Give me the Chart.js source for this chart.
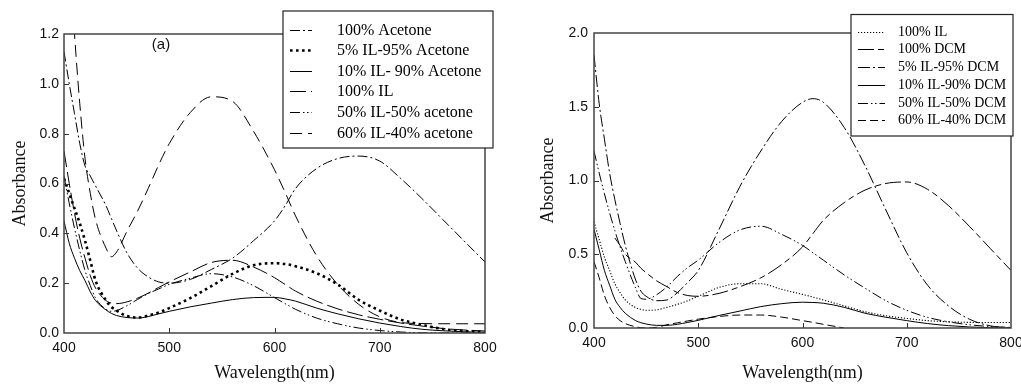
<!DOCTYPE html>
<html>
<head>
<meta charset="utf-8">
<script src="https://cdn.jsdelivr.net/npm/chart.js@4/dist/chart.umd.min.js"></script>
<style>
  body { margin: 0; background: #fff; width: 1021px; height: 387px; position: relative; overflow: hidden; }
  #left { position: absolute; left: 0; top: 0; }
  #right { position: absolute; left: 510px; top: 0; }
</style>
</head>
<body>
<canvas id="left" width="505" height="387"></canvas>
<canvas id="right" width="511" height="387"></canvas>
<script>

// =======================
// DATA
// =======================

const wl = [400, 405, 410, 415, 420, 425, 430, 440, 445, 450, 460, 470, 480, 490, 500,
            520, 540, 560, 580, 600, 610, 620, 640, 660, 680, 700, 720, 740, 760, 780, 800];

const xTicks = [400, 500, 600, 700, 800];
const leftYTicks = [0, 0.2, 0.4, 0.6, 0.8, 1.0, 1.2];
const rightYTicks = [0, 0.5, 1.0, 1.5, 2.0];

// left panel: acetone
const leftLabels = ["100% Acetone", "5% IL-95% Acetone", "10% IL- 90% Acetone",
                    "100% IL", "50% IL-50% acetone", "60% IL-40% acetone"];

const acetone100 = [1.13, 1.00, 0.88, 0.76, 0.67, 0.63, 0.59, 0.51, 0.46, 0.41, 0.32, 0.26, 0.225, 0.205, 0.20,
                    0.215, 0.255, 0.30, 0.37, 0.45, 0.51, 0.58, 0.66, 0.70, 0.71, 0.69, 0.62, 0.54, 0.455, 0.37, 0.285];
const il5Acetone = [0.62, 0.56, 0.50, 0.44, 0.37, 0.29, 0.21, 0.13, 0.105, 0.09, 0.068, 0.062, 0.07, 0.082, 0.10,
                    0.14, 0.188, 0.237, 0.272, 0.28, 0.277, 0.268, 0.24, 0.195, 0.133, 0.09, 0.054, 0.033, 0.016, 0.008, 0.004];
const il10Acetone = [0.45, 0.36, 0.30, 0.25, 0.21, 0.165, 0.13, 0.092, 0.079, 0.07, 0.062, 0.06, 0.066, 0.077, 0.087,
                     0.105, 0.12, 0.134, 0.142, 0.143, 0.137, 0.128, 0.10, 0.077, 0.057, 0.04, 0.026, 0.015, 0.009, 0.005, 0.003];
const il100A = [0.73, 0.60, 0.48, 0.38, 0.30, 0.23, 0.18, 0.13, 0.12, 0.118, 0.125, 0.14, 0.16, 0.183, 0.205,
                0.245, 0.283, 0.292, 0.265, 0.222, 0.195, 0.168, 0.128, 0.097, 0.073, 0.055, 0.04, 0.028, 0.018, 0.012, 0.008];
const il50Acetone = [0.63, 0.52, 0.42, 0.33, 0.25, 0.19, 0.14, 0.095, 0.087, 0.09, 0.11, 0.135, 0.158, 0.177, 0.195,
                     0.22, 0.238, 0.225, 0.19, 0.142, 0.118, 0.095, 0.06, 0.037, 0.02, 0.01, 0.004, 0.001, 0, 0, 0];
const il60Acetone = [1.95, 1.55, 1.20, 0.92, 0.70, 0.56, 0.455, 0.34, 0.306, 0.325, 0.41, 0.49, 0.58, 0.675, 0.76,
                     0.885, 0.948, 0.93, 0.81, 0.655, 0.565, 0.47, 0.31, 0.195, 0.115, 0.065, 0.042, 0.038, 0.037, 0.037, 0.037];

// right panel: DCM
const rightLabels = ["100% IL", "100% DCM", "5% IL-95% DCM",
                     "10% IL-90% DCM", "50% IL-50% DCM", "60% IL-40% DCM"];

const il100D = [0.72, 0.60, 0.48, 0.39, 0.30, 0.24, 0.19, 0.138, 0.127, 0.12, 0.123, 0.14, 0.16, 0.185, 0.215,
                0.275, 0.30, 0.30, 0.262, 0.228, 0.21, 0.19, 0.15, 0.11, 0.083, 0.065, 0.05, 0.042, 0.038, 0.037, 0.037];
const dcm100 = [null, null, null, null, 0.61, 0.56, 0.50, 0.445, 0.405, 0.375, 0.32, 0.28, 0.24, 0.22, 0.215,
                0.235, 0.28, 0.34, 0.43, 0.55, 0.64, 0.73, 0.85, 0.935, 0.98, 0.99, 0.94, 0.83, 0.69, 0.54, 0.39];
const il5Dcm = [1.85, 1.52, 1.28, 1.05, 0.87, 0.71, 0.56, 0.325, 0.25, 0.215, 0.185, 0.19, 0.24, 0.31, 0.39,
                0.67, 0.96, 1.20, 1.40, 1.53, 1.555, 1.53, 1.36, 1.10, 0.80, 0.51, 0.29, 0.15, 0.06, 0.015, 0.0];
const il10Dcm = [0.67, 0.53, 0.39, 0.29, 0.195, 0.14, 0.10, 0.05, 0.036, 0.027, 0.018, 0.018, 0.025, 0.038, 0.052,
                 0.085, 0.115, 0.145, 0.165, 0.175, 0.173, 0.168, 0.14, 0.10, 0.073, 0.05, 0.03, 0.016, 0.007, 0.002, 0];
const il50Dcm = [1.2, 1.05, 0.91, 0.78, 0.66, 0.55, 0.45, 0.27, 0.2, 0.195, 0.225, 0.28, 0.35, 0.41, 0.46,
                 0.58, 0.665, 0.69, 0.635, 0.56, 0.51, 0.46, 0.36, 0.27, 0.185, 0.12, 0.072, 0.042, 0.022, 0.01, 0.004];
const il60Dcm = [0.45, 0.34, 0.22, 0.14, 0.085, 0.05, 0.03, 0.008, 0.002, 0.0, 0.005, 0.022, 0.035, 0.048, 0.06,
                 0.078, 0.088, 0.088, 0.074, 0.05, 0.038, 0.025, 0.0, null, null, null, null, null, null, null, null];

// =======================
// HELPERS
// =======================

const SANS = "'Liberation Sans', Arial, sans-serif";
const SERIF = "'Liberation Serif', 'Times New Roman', serif";

function points(ys) {
  return wl.map((w, i) => ({ x: w, y: ys[i] }));
}

function series(label, ys, dash, width) {
  return {
    label: label,
    data: points(ys),
    borderColor: "#000",
    borderWidth: width || 1,
    borderDash: dash,
    borderCapStyle: "butt",
    pointRadius: 0,
    fill: false,
    cubicInterpolationMode: "monotone"
  };
}

// frame, inward ticks, note and boxed legend
const framePlugin = {
  id: "frame",
  afterDatasetsDraw(chart, args, opts) {
    const { ctx, chartArea: a } = chart;
    const x = chart.scales.x, y = chart.scales.y;
    ctx.save();
    ctx.strokeStyle = "#333";
    ctx.lineWidth = 1;
    ctx.beginPath();
    x.ticks.forEach(t => {
      if (t.value > x.min && t.value < x.max) {
        const px = Math.round(x.getPixelForValue(t.value)) + 0.5;
        ctx.moveTo(px, a.bottom);
        ctx.lineTo(px, a.bottom - 5);
      }
    });
    y.ticks.forEach(t => {
      if (t.value > y.min && t.value < y.max) {
        const py = Math.round(y.getPixelForValue(t.value)) + 0.5;
        ctx.moveTo(a.left, py);
        ctx.lineTo(a.left + 5, py);
      }
    });
    ctx.stroke();
    ctx.lineWidth = 1.5;
    ctx.strokeStyle = "#444";
    ctx.strokeRect(a.left, a.top, a.right - a.left, a.bottom - a.top);

    if (opts.note) {
      ctx.fillStyle = "#111";
      ctx.font = "15px " + SANS;
      ctx.textAlign = "center";
      ctx.textBaseline = "middle";
      ctx.fillText(opts.note.text, opts.note.x, opts.note.y);
    }
    ctx.restore();
  },
  afterDraw(chart, args, opts) {
    const lg = opts.legend;
    if (!lg) return;
    const ctx = chart.ctx;
    ctx.save();
    ctx.fillStyle = "#fff";
    ctx.fillRect(lg.x, lg.y, lg.w, lg.h);
    ctx.strokeStyle = "#222";
    ctx.lineWidth = 1.2;
    ctx.strokeRect(lg.x, lg.y, lg.w, lg.h);

    chart.data.datasets.forEach((ds, i) => {
      const ry = Math.round(lg.row0 + i * lg.rowStep) + 0.5;
      ctx.beginPath();
      ctx.setLineDash(ds.borderDash || []);
      ctx.lineWidth = ds.borderWidth;
      ctx.strokeStyle = "#000";
      ctx.moveTo(lg.s0, ry);
      ctx.lineTo(lg.s1, ry);
      ctx.stroke();
      ctx.setLineDash([]);
      ctx.fillStyle = "#000";
      ctx.font = lg.fontSize + "px " + SERIF;
      ctx.textAlign = "left";
      ctx.textBaseline = "middle";
      ctx.fillText(ds.label, lg.textX, ry);
    });
    ctx.restore();
  }
};

function makeChart(id, datasets, yTicks, yMax, layout) {
  return new Chart(document.getElementById(id).getContext("2d"), {
    type: "line",
    data: { datasets: datasets },
    plugins: [framePlugin],
    options: {
      responsive: false,
      animation: false,
      layout: { padding: { left: 0, top: layout.top, right: layout.right, bottom: 0 } },
      plugins: {
        legend: { display: false },
        tooltip: { enabled: false },
        frame: { legend: layout.legend, note: layout.note }
      },
      scales: {
        x: {
          type: "linear",
          min: 400,
          max: 800,
          grid: { display: false, drawTicks: false },
          border: { display: false },
          afterBuildTicks: s => { s.ticks = xTicks.map(v => ({ value: v })); },
          afterFit: s => { s.height = layout.xHeight; s.paddingLeft = 0; s.paddingRight = 0; },
          ticks: {
            padding: 7,
            maxRotation: 0,
            color: "#111",
            font: { family: SANS, size: 14 },
            callback: v => String(v)
          },
          title: {
            display: true,
            text: "Wavelength(nm)",
            color: "#111",
            font: { family: SERIF, size: 18 },
            padding: { top: 0, bottom: 3 }
          }
        },
        y: {
          type: "linear",
          min: 0,
          max: yMax,
          grid: { display: false, drawTicks: false },
          border: { display: false },
          afterBuildTicks: s => { s.ticks = yTicks.map(v => ({ value: v })); },
          afterFit: s => { s.width = layout.yWidth; s.paddingTop = 0; s.paddingBottom = 0; },
          ticks: {
            padding: layout.yPad,
            color: "#111",
            font: { family: SANS, size: 14 },
            callback: v => v.toFixed(1)
          },
          title: {
            display: true,
            text: "Absorbance",
            color: "#111",
            font: { family: SERIF, size: 18 },
            padding: { top: layout.yTitlePad, bottom: 0 }
          }
        }
      }
    }
  });
}

// =======================
// LEFT CHART
// =======================

makeChart("left", [
  series(leftLabels[0], acetone100, [10, 3, 2, 3]),
  series(leftLabels[1], il5Acetone, [2.6, 3.4], 2.6),
  series(leftLabels[2], il10Acetone, []),
  series(leftLabels[3], il100A, [16, 5]),
  series(leftLabels[4], il50Acetone, [10, 3, 1.5, 2.5, 1.5, 3]),
  series(leftLabels[5], il60Acetone, [12, 6])
], leftYTicks, 1.2, {
  top: 34, right: 20, xHeight: 54, yWidth: 64, yPad: 5, yTitlePad: 9,
  note: { text: "(a)", x: 161, y: 45 },
  legend: { x: 283, y: 11, w: 210, h: 137, row0: 29.5, rowStep: 20.6,
            s0: 290, s1: 312, textX: 337, fontSize: 16 }
});

// =======================
// RIGHT CHART
// =======================

makeChart("right", [
  series(rightLabels[0], il100D, [1.2, 1.8], 1.1),
  series(rightLabels[1], dcm100, [16, 4, 6, 4]),
  series(rightLabels[2], il5Dcm, [12, 3, 2, 3]),
  series(rightLabels[3], il10Dcm, []),
  series(rightLabels[4], il50Dcm, [10, 3, 1.5, 2.5, 1.5, 3]),
  series(rightLabels[5], il60Dcm, [8, 4])
], rightYTicks, 2.0, {
  top: 33, right: 10, xHeight: 59, yWidth: 84, yPad: 6, yTitlePad: 27,
  legend: { x: 341, y: 14.5, w: 162, h: 121.5, row0: 31.7, rowStep: 17.7,
            s0: 348, s1: 375, textX: 388, fontSize: 14 }
});

</script>
</body>
</html>
